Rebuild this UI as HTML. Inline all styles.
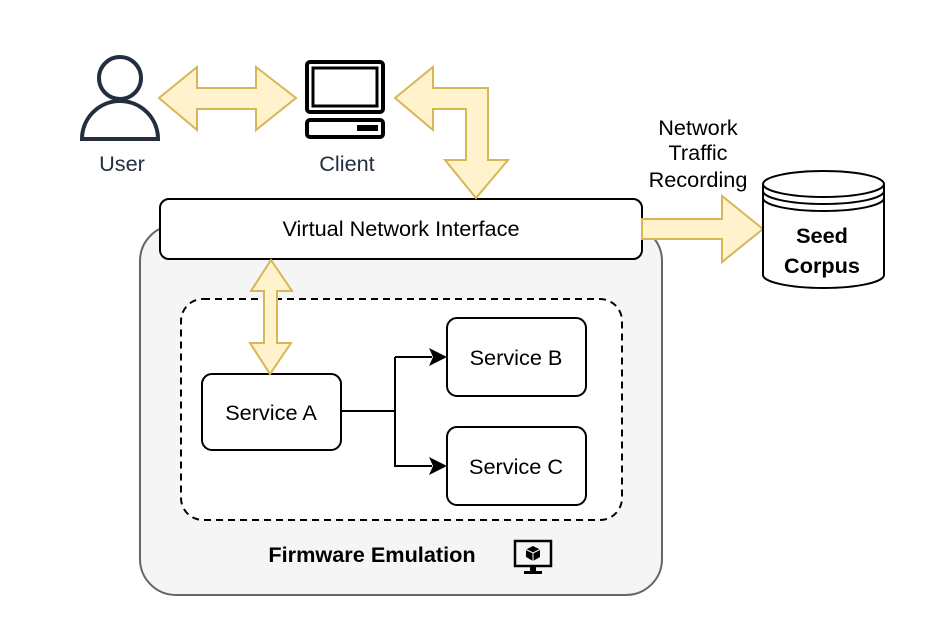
<!DOCTYPE html>
<html><head><meta charset="utf-8"><style>body{margin:0;background:#fff}svg{display:block}text{font-family:"Liberation Sans",Arial,sans-serif}</style></head><body>
<svg width="947" height="634" viewBox="0 0 947 634" xmlns="http://www.w3.org/2000/svg">
<rect x="140" y="225" width="522" height="370" rx="36" fill="#f5f5f5" stroke="#666" stroke-width="2"/>
<rect x="181" y="299" width="441" height="221" rx="22" fill="#fff" stroke="#000" stroke-width="2" stroke-dasharray="7,5"/>
<rect x="160" y="199" width="482" height="60" rx="9" fill="#fff" stroke="#000" stroke-width="2"/>
<text x="401" y="236" font-size="21.7" text-anchor="middle">Virtual Network Interface</text>
<rect x="202" y="374" width="139" height="76" rx="10" fill="#fff" stroke="#000" stroke-width="2"/>
<text x="271" y="420" font-size="21.7" text-anchor="middle">Service A</text>
<rect x="447" y="318" width="139" height="78" rx="10" fill="#fff" stroke="#000" stroke-width="2"/>
<text x="516" y="365" font-size="21.7" text-anchor="middle">Service B</text>
<rect x="447" y="427" width="139" height="78" rx="10" fill="#fff" stroke="#000" stroke-width="2"/>
<text x="516" y="474" font-size="21.7" text-anchor="middle">Service C</text>
<path d="M341 411H395M395 357V466H432M395 357H432" fill="none" stroke="#000" stroke-width="2"/>
<path d="M447 357L429 348L433 357L429 366Z M447 466L429 457L433 466L429 475Z" fill="#000"/>
<g fill="#fff2cc" stroke="#d6b656" stroke-width="2" stroke-linejoin="miter">
<path d="M159 98L197 67V88H256V67L296 98L256 130V109H197V130Z"/>
<path d="M395 98L433 67V88H488V160H508L476 198L445 160H466V109H433V130Z"/>
<path d="M271 260L292 291H277V343H291L270 374L250 343H264V291H251Z"/>
<path d="M642 219H722V196L763 229L722 262V239H642Z"/>
</g>
<g fill="none" stroke="#232f3e" stroke-width="4">
<circle cx="120" cy="78" r="21"/>
<path d="M82 139A38 38 0 0 1 158 139Z"/>
</g>
<text x="122" y="171" font-size="21.7" fill="#232f3e" text-anchor="middle">User</text>
<rect x="307" y="62" width="76" height="50" rx="3" fill="none" stroke="#000" stroke-width="4"/>
<rect x="313" y="68" width="64" height="38" fill="none" stroke="#000" stroke-width="3"/>
<rect x="307" y="120" width="76" height="17" rx="3" fill="none" stroke="#000" stroke-width="4"/>
<rect x="357" y="125" width="21" height="6" fill="#000"/>
<text x="347" y="171" font-size="21.7" fill="#232f3e" text-anchor="middle">Client</text>
<g font-size="21.7" text-anchor="middle"><text x="698" y="135">Network</text><text x="698" y="160">Traffic</text><text x="698" y="187">Recording</text></g>
<path d="M763 184V275A60.5 13 0 0 0 884 275V184" fill="#fff" stroke="#000" stroke-width="2"/>
<ellipse cx="823.5" cy="184" rx="60.5" ry="13" fill="#fff" stroke="#000" stroke-width="2"/>
<path d="M763 191A60.5 13 0 0 0 884 191M763 198A60.5 13 0 0 0 884 198" fill="none" stroke="#000" stroke-width="2"/>
<g font-size="21.7" font-weight="bold" text-anchor="middle"><text x="822" y="243">Seed</text><text x="822" y="273">Corpus</text></g>
<text x="372" y="562" font-size="21.7" font-weight="bold" text-anchor="middle">Firmware Emulation</text>
<rect x="515" y="541" width="36" height="25" fill="none" stroke="#000" stroke-width="2.5"/>
<rect x="530" y="566" width="6" height="5" fill="#000"/>
<rect x="524" y="571" width="18" height="3" fill="#000"/>
<path d="M533 546L540 549.5V557L533 561L526 557V549.5Z" fill="#000"/>
<path d="M526 549.5L533 553L540 549.5M533 553V561" fill="none" stroke="#fff" stroke-width="1"/>
</svg>
</body></html>
